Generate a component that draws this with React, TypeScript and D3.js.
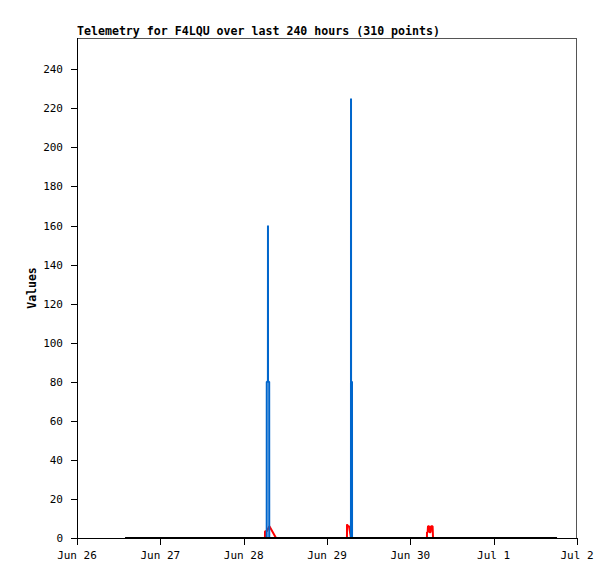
import * as d3 from "d3";

// each series: [time, value]
const blackSeries: [string, number][] = [
	["2024-06-26T13:50", 0],
	["2024-06-27T12:00", 0],
	["2024-06-28T12:00", 0],
	["2024-06-29T12:00", 0],
	["2024-06-30T12:00", 0],
	["2024-07-01T18:15", 0],
];

const blueSeries: [string, number][] = [
	["2024-06-28T06:38", 0],
	["2024-06-28T06:39", 80],
	["2024-06-28T06:59", 80],
	["2024-06-28T07:00", 160],
	["2024-06-28T07:01", 80],
	["2024-06-28T07:21", 80],
	["2024-06-28T07:22", 0],
	["2024-06-29T06:54", 0],
	["2024-06-29T06:55", 225],
	["2024-06-29T06:56", 80],
	["2024-06-29T07:12", 80],
	["2024-06-29T07:13", 0],
];

const redSeries: [string, number][] = [
	["2024-06-28T06:08", 0],
	["2024-06-28T06:09", 3.5],
	["2024-06-28T06:40", 3.5],
	["2024-06-28T07:25", 6],
	["2024-06-28T09:19", 0],
	["2024-06-29T05:45", 0],
	["2024-06-29T05:46", 7],
	["2024-06-29T06:03", 6],
	["2024-06-29T06:20", 6],
	["2024-06-29T06:55", 0],
	["2024-06-30T04:47", 0],
	["2024-06-30T04:48", 3],
	["2024-06-30T05:00", 3],
	["2024-06-30T05:05", 6],
	["2024-06-30T05:25", 6],
	["2024-06-30T05:31", 3],
	["2024-06-30T05:50", 3],
	["2024-06-30T05:57", 6],
	["2024-06-30T06:25", 6],
	["2024-06-30T06:32", 0],
];

const yTicks = [0, 20, 40, 60, 80, 100, 120, 140, 160, 180, 200, 220, 240];
const title = "Telemetry for F4LQU over last 240 hours (310 points)";

const W = 615;
const H = 579;
const left = 77;
const right = 577;
const top = 38;
const bottom = 538;
const mono = "'DejaVu Sans Mono', 'Liberation Mono', monospace";

export default function App() {
	const x = d3
		.scaleTime()
		.domain([new Date(2024, 5, 26), new Date(2024, 6, 2)])
		.range([left, right]);
	const y = d3.scaleLinear().domain([0, 256]).range([bottom, top]);
	const fmt = d3.timeFormat("%b %-d");
	const xTicks = x.ticks(d3.timeDay.every(1)!);

	const line = d3
		.line<[string, number]>()
		.x((d) => x(new Date(d[0])))
		.y((d) => y(d[1]));

	return (
		<svg
			width={W}
			height={H}
			style={{ position: "absolute", left: 0, top: 0, background: "#fff" }}
		>
			<rect x={0} y={0} width={W} height={H} fill="#fff" />
			<text
				x={left}
				y={35}
				fontFamily={mono}
				fontSize={11.6}
				fontWeight="bold"
				fill="#000"
			>
				{title}
			</text>
			{/* frame */}
			<line x1={left} x2={right} y1={top + 0.5} y2={top + 0.5} stroke="#555" />
			<line x1={right - 0.5} x2={right - 0.5} y1={top} y2={bottom} stroke="#555" />

			{/* y axis */}
			<line x1={left + 0.5} x2={left + 0.5} y1={top} y2={bottom} stroke="#000" />
			{yTicks.map((t) => (
				<g key={t}>
					<line
						x1={left - 6}
						x2={left}
						y1={Math.round(y(t)) + 0.5}
						y2={Math.round(y(t)) + 0.5}
						stroke="#000"
					/>
					<text
						x={63}
						y={y(t) + 4}
						textAnchor="end"
						fontFamily={mono}
						fontSize={11}
						fill="#000"
					>
						{t}
					</text>
				</g>
			))}
			<text
				transform={`translate(36,${(top + bottom) / 2}) rotate(-90)`}
				textAnchor="middle"
				fontFamily={mono}
				fontSize={11.5}
				fontWeight="bold"
				fill="#000"
			>
				Values
			</text>

			{/* series */}
			<path d={line(redSeries) ?? ""} fill="none" stroke="#ff0000" strokeWidth={2} strokeLinejoin="bevel" />
			<path d={line(blueSeries) ?? ""} fill="none" stroke="#0066cc" strokeWidth={2} strokeLinejoin="bevel" />
			<path d={line(blackSeries) ?? ""} fill="none" stroke="#000" strokeWidth={2} />

			{/* x axis */}
			<line x1={left} x2={right} y1={bottom + 0.5} y2={bottom + 0.5} stroke="#000" />
			{xTicks.map((t) => (
				<g key={t.getTime()}>
					<line
						x1={Math.round(x(t)) + 0.5}
						x2={Math.round(x(t)) + 0.5}
						y1={bottom}
						y2={bottom + 7}
						stroke="#000"
					/>
					<text
						x={x(t)}
						y={559}
						textAnchor="middle"
						fontFamily={mono}
						fontSize={11}
						fill="#000"
					>
						{fmt(t)}
					</text>
				</g>
			))}
		</svg>
	);
}
